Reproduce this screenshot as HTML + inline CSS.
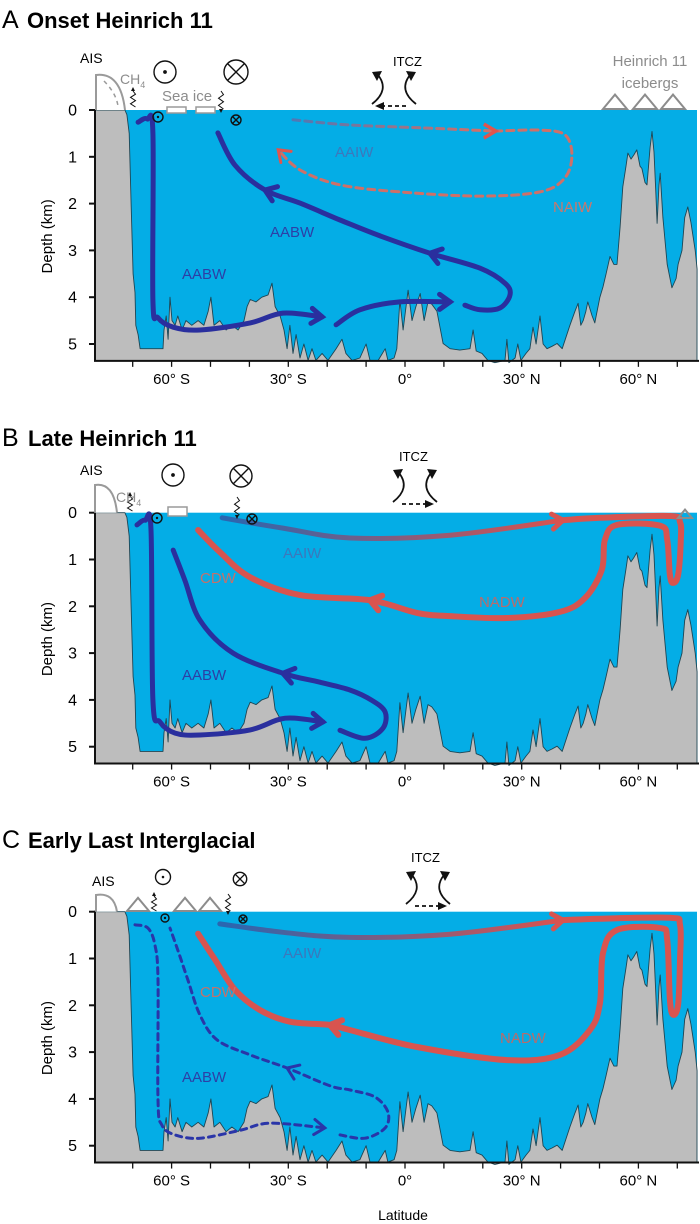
<!DOCTYPE html>
<html><head><meta charset="utf-8"><style>
html,body{margin:0;padding:0;background:#fff;}
svg{display:block;font-family:"Liberation Sans",sans-serif;}
</style></head><body>
<svg id="fig" width="700" height="1224" viewBox="0 0 700 1224">
<defs>
<linearGradient id="gA" gradientUnits="userSpaceOnUse" x1="293" y1="0" x2="480" y2="0"><stop offset="0" stop-color="#4f78b4"/><stop offset="1" stop-color="#d0706a"/></linearGradient>
<linearGradient id="gB" gradientUnits="userSpaceOnUse" x1="225" y1="0" x2="560" y2="0"><stop offset="0" stop-color="#2a66b0"/><stop offset="1" stop-color="#d9534f"/></linearGradient>
</defs>
<g id="layer-panels"></g>
<g id="layer-annot">
<text x="2" y="28" font-size="25">A</text>
<text x="27" y="28" font-size="22" font-weight="bold">Onset Heinrich 11</text>
<text x="2" y="446" font-size="25">B</text>
<text x="28" y="446" font-size="22" font-weight="bold">Late Heinrich 11</text>
<text x="2" y="848" font-size="25">C</text>
<text x="28" y="848" font-size="22" font-weight="bold">Early Last Interglacial</text>

<text x="80" y="63" font-size="14">AIS</text>
<text x="120" y="84" font-size="14" fill="#8c8c8c">CH<tspan font-size="9" dy="4">4</tspan></text>
<text x="162" y="101" font-size="15" fill="#8c8c8c">Sea ice</text>
<text x="393" y="66" font-size="13">ITCZ</text>
<text x="650" y="66" font-size="15" fill="#8c8c8c" text-anchor="middle">Heinrich 11</text>
<text x="650" y="88" font-size="15" fill="#8c8c8c" text-anchor="middle">icebergs</text>

<text x="80" y="475" font-size="14">AIS</text>
<text x="116" y="502" font-size="14" fill="#8c8c8c">CH<tspan font-size="9" dy="4">4</tspan></text>
<text x="399" y="461" font-size="13">ITCZ</text>

<text x="92" y="886" font-size="14">AIS</text>
<text x="411" y="862" font-size="13">ITCZ</text>

<text x="270" y="237" font-size="15" fill="#2d3fa6">AABW</text>
<text x="182" y="279" font-size="15" fill="#2d3fa6">AABW</text>
<text x="335" y="157" font-size="15" fill="#3c78bc">AAIW</text>
<text x="553" y="212" font-size="15" fill="#c8786e">NAIW</text>

<text x="283" y="558" font-size="15" fill="#3c78bc">AAIW</text>
<text x="200" y="583" font-size="15" fill="#c4716b">CDW</text>
<text x="479" y="607" font-size="15" fill="#b86c6c">NADW</text>
<text x="182" y="680" font-size="15" fill="#2d3fa6">AABW</text>

<text x="283" y="958" font-size="15" fill="#3c78bc">AAIW</text>
<text x="200" y="997" font-size="15" fill="#c4716b">CDW</text>
<text x="500" y="1043" font-size="15" fill="#b86c6c">NADW</text>
<text x="182" y="1082" font-size="15" fill="#2d3fa6">AABW</text>

<text x="403" y="1220" font-size="14" text-anchor="middle">Latitude</text>
</g>
</svg>
<script>
// ---------- data ----------
const bathyLat=[-79.7,-72,-71.5,-70.9,-70.4,-69.9,-69.4,-69.2,-68.6,-68.1,-62.2,-61.95,-61.4,-60.9,-60.4,-59.9,-59.1,-58.4,-57.3,-56.3,-54.8,-53.2,-51.7,-50.6,-49.9,-49.1,-47.6,-46.0,-44.5,-42.9,-41.4,-40.6,-39.8,-38.3,-36.8,-35.2,-34.2,-33.4,-32.1,-31.1,-30.3,-29.6,-28.8,-28.0,-27.0,-26.0,-24.9,-23.9,-22.9,-21.3,-19.8,-17.7,-16.2,-15.2,-13.6,-11.6,-10.0,-9.0,-6.9,-5.1,-4.4,-2.8,-2.1,-1.3,-0.5,0.8,1.8,2.8,3.9,4.9,5.9,6.9,8.2,9.8,11.6,14.1,16.7,17.5,18.3,19.8,21.3,23.1,25.7,26.2,26.7,28.3,29.0,29.8,31.1,32.1,32.9,33.7,34.7,35.5,36.5,37.8,39.1,40.4,42.4,43.7,44.5,45.2,45.8,46.5,47.0,48.1,48.8,50.1,50.9,51.7,52.7,53.7,54.5,55.3,56.0,56.8,57.3,58.1,58.9,59.6,60.4,60.9,61.7,62.2,63.0,63.5,64.0,64.5,64.8,65.3,65.6,66.3,67.4,68.6,69.7,70.2,71.2,71.9,72.7,73.5,74.6,75.1];
const bathyDepth=[0,0,0.1,0.5,2,3.5,3.9,4.6,4.8,5.1,5.1,4.7,4.4,4.9,4.0,4.5,4.6,4.4,4.7,4.5,4.6,4.5,4.6,4.3,4.0,4.6,4.5,4.7,4.6,4.7,4.5,4.2,4.05,4.1,4.0,3.95,3.7,4.2,4.4,4.7,5.1,4.6,5.2,4.8,5.3,5.0,5.35,5.1,5.35,5.2,5.35,5.1,4.9,5.2,5.35,5.3,5.0,5.35,5.35,5.1,5.35,5.3,5.1,4.06,4.7,3.85,4.5,4.2,3.92,4.5,4.1,4.15,4.3,4.99,5.1,5.13,5.1,4.7,5.15,5.2,5.35,5.4,5.35,4.9,5.4,5.3,5.0,5.35,5.2,5.1,4.64,5.0,4.4,5.0,5.1,5.05,4.99,5.1,4.6,4.3,4.13,4.6,4.5,4.3,4.1,4.4,4.55,4.0,3.78,3.5,3.13,3.3,3.3,2.5,1.64,1.2,0.92,1.05,0.95,0.85,1.2,1.25,1.55,1.6,0.8,0.46,0.9,1.8,2.42,1.6,1.35,2.3,3.3,3.8,3.6,3.3,3.0,2.3,2.07,2.4,3.0,3.4];
const depthTicks=[0,1,2,3,4,5];
const latTicks=[-70,-60,-50,-40,-30,-20,-10,0,10,20,30,40,50,60,70];
const latLabelValues=[-60,-30,0,30,60];
const latLabelText=["60° S","30° S","0°","30° N","60° N"];
const panelTops=[110,512.7,911.7];

// Panel A currents
const aabwA1Lat=[-68.6,-66.3,-64.8,-64.8,-63.5,-59.6,-52.7,-39.8,-31.4,-21.3];
const aabwA1Dep=[0.26,0.19,0.49,4.06,4.44,4.64,4.70,4.55,4.34,4.42];
const aabwA2Lat=[-17.7,-11.6,-1.3,11.6];
const aabwA2Dep=[4.59,4.27,4.10,4.10];
const aabwA3Lat=[15.4,19.3,24.4,27.0,25.7,19.3,6.4,-6.4,-16.7,-27.0,-36.0,-43.7,-48.1];
const aabwA3Dep=[4.17,4.27,4.23,3.95,3.70,3.38,3.06,2.69,2.35,1.99,1.71,1.18,0.49];
const naiwTopLat=[-28.8,-14.1,3.9,23.1];
const naiwTopDep=[0.21,0.32,0.38,0.45];
const naiwLat=[23.1,34.7,41.1,42.9,41.1,34.7,19.3,-1.3,-16.7,-27,-32.6];
const naiwDep=[0.45,0.43,0.53,0.96,1.45,1.75,1.84,1.75,1.60,1.28,0.85];
// Panel B currents
const aabwB1Lat=[-68.9,-66.8,-65.3,-64.8,-63,-59.1,-52.7,-39.8,-30.8,-21.1];
const aabwB1Dep=[0.26,0.16,0.37,4.00,4.47,4.71,4.75,4.64,4.39,4.47];
const aabwB2Lat=[-16.7,-10.3,-5.7,-5.1,-8.5,-14.1,-22,-31.4,-44.2,-52.7,-56.6,-59.6];
const aabwB2Dep=[4.65,4.82,4.61,4.26,4.01,3.79,3.62,3.43,3.0,2.3,1.44,0.80];
const aaiwBLat=[-47,-31.4,-14.1,11.6,40.6];
const aaiwBDep=[0.11,0.33,0.54,0.48,0.16];
const nadwBLat=[40.6,50.1,68.1,70.7,70.9,70.2,68.9,68.1,67.4,65.6,54.5,51.4,50.6,46.3,39.8,26.2,11.6,3.1,-9,-27,-39.8,-47.6,-53.2];
const nadwBDep=[0.16,0.11,0.07,0.20,0.58,1.33,1.50,1.33,0.58,0.28,0.26,0.58,1.22,1.82,2.12,2.25,2.21,2.14,1.87,1.76,1.38,0.84,0.37];
// Panel C currents
const aabwC1Lat=[-69.4,-66.1,-64.3,-63.5,-63.5,-62.5,-59.1,-52.7,-42.4,-34.7,-20.6];
const aabwC1Dep=[0.28,0.35,0.71,1.46,4.02,4.56,4.77,4.84,4.67,4.52,4.62];
const aabwC2Lat=[-16.7,-10.3,-5.1,-4.4,-7.7,-14.1,-19.3,-30.3,-39.8,-48.3,-52.7,-55.8,-58.4,-60.4];
const aabwC2Dep=[4.77,4.84,4.62,4.28,3.96,3.81,3.72,3.34,3.06,2.74,2.21,1.46,0.82,0.35];
const aaiwCLat=[-47.6,-31.4,-14.1,11.6,40.6];
const aaiwCDep=[0.26,0.44,0.55,0.48,0.18];
const nadwCLat=[40.6,50.1,68.1,70.7,70.7,70.2,68.9,68.1,67.4,65.6,54.5,50.9,50.1,47.5,39.8,26.2,3.1,-14.1,-19.3,-29.6,-37.3,-43.7,-48.8,-53.2];
const nadwCDep=[0.18,0.15,0.13,0.28,1.03,1.99,2.20,1.88,0.60,0.35,0.39,0.88,1.96,2.53,3.06,3.17,2.89,2.53,2.42,2.35,2.10,1.67,1.03,0.47];

// ---------- scales ----------
const NS="http://www.w3.org/2000/svg";
function X(lat){return 405+3.89*lat;}
function Y(top,d){return top+46.8*d;}
const AXIS_DEPTH=5.36;
const RIGHT=697, LEFT=95;
const BLUE="#2a2f9e", RED="#d8544f";
function mk(tag,attrs,parent){const e=document.createElementNS(NS,tag);for(const k in attrs)e.setAttribute(k,attrs[k]);(parent||document.getElementById('layer-panels')).appendChild(e);return e;}
function smooth(pts){
  let d="M"+pts[0][0].toFixed(1)+","+pts[0][1].toFixed(1);
  for(let i=0;i<pts.length-1;i++){
    const p0=pts[Math.max(0,i-1)],p1=pts[i],p2=pts[i+1],p3=pts[Math.min(pts.length-1,i+2)];
    const c1=[p1[0]+(p2[0]-p0[0])/6,p1[1]+(p2[1]-p0[1])/6];
    const c2=[p2[0]-(p3[0]-p1[0])/6,p2[1]-(p3[1]-p1[1])/6];
    d+="C"+c1[0].toFixed(1)+","+c1[1].toFixed(1)+" "+c2[0].toFixed(1)+","+c2[1].toFixed(1)+" "+p2[0].toFixed(1)+","+p2[1].toFixed(1);
  }
  return d;
}
function current(g,top,lats,deps,stroke,width,dash,arrows,name,arrowColor){
  const pts=lats.map((l,i)=>[X(l),Y(top,deps[i])]);
  const p=mk('path',{d:smooth(pts),fill:'none',stroke:stroke,'stroke-width':width,'stroke-linecap':'round','stroke-linejoin':'round'},g);
  if(dash)p.setAttribute('stroke-dasharray',dash);
  
  
  arrows.forEach(i=>{
    const a=pts[i],b=pts[Math.max(0,i-1)];
    let dx=a[0]-b[0],dy=a[1]-b[1];const L=Math.hypot(dx,dy)||1;dx/=L;dy/=L;
    const len=13,ang=0.62;
    const l1=[a[0]-len*(dx*Math.cos(ang)-dy*Math.sin(ang)),a[1]-len*(dy*Math.cos(ang)+dx*Math.sin(ang))];
    const l2=[a[0]-len*(dx*Math.cos(-ang)-dy*Math.sin(-ang)),a[1]-len*(dy*Math.cos(-ang)+dx*Math.sin(-ang))];
    const h=mk('path',{d:`M${l1[0]},${l1[1]}L${a[0]},${a[1]}L${l2[0]},${l2[1]}`,fill:'none',stroke:arrowColor||stroke,'stroke-width':width,'stroke-linecap':'round','stroke-linejoin':'miter'},g);
    
    
  });
}
function circleDot(g,cx,cy,r,name){
  const c=mk('g',{},g);
  
  
  mk('circle',{cx:cx,cy:cy,r:r,fill:'none',stroke:'#111','stroke-width':1.4},c);
  mk('circle',{cx:cx,cy:cy,r:Math.max(1.2,r*0.17),fill:'#111'},c);
}
function circleX(g,cx,cy,r,name){
  const c=mk('g',{},g);
  
  
  mk('circle',{cx:cx,cy:cy,r:r,fill:'none',stroke:'#111','stroke-width':1.4},c);
  const k=r*0.7;
  mk('path',{d:`M${cx-k},${cy-k}L${cx+k},${cy+k}M${cx-k},${cy+k}L${cx+k},${cy-k}`,stroke:'#111','stroke-width':1.4},c);
}
function wavy(g,x,y1,y2,up,name){
  let d=`M${x},${y1}`;const n=5,h=(y2-y1)/n;
  for(let i=1;i<=n;i++)d+=`L${x+(i%2?2.5:-2.5)},${y1+h*i}`;
  const w=mk('path',{d:d,fill:'none',stroke:'#111','stroke-width':1},g);
  
  
  const tip=up?y1-4:y2+4, base=up?y1:y2;
  mk('path',{d:`M${x-2},${base}L${x},${tip}L${x+2},${base}Z`,fill:'#111'},g);
}
function triangle(g,cx,base,w,name){
  const t=mk('path',{d:`M${cx-w/2},${base}L${cx},${base-w*0.6}L${cx+w/2},${base}Z`,fill:'none',stroke:'#8c8c8c','stroke-width':2},g);
  
  
}
function dome(g,x0,x1,top,base,dashed,name){
  const d=mk('path',{d:`M${x0},${base}L${x0},${top+2}Q${x0+(x1-x0)*0.85},${top-1} ${x1},${base}`,fill:'#fff',stroke:'#9a9a9a','stroke-width':2},g);
  
  
  if(dashed)mk('path',{d:`M${x0+8},${top+8}Q${x0+20},${top+20} ${x0+22},${base-4}`,fill:'none',stroke:'#9a9a9a','stroke-width':1.5,'stroke-dasharray':'4,4'},g);
}
function seaIce(g,x,y,w,h,name){
  const r=mk('rect',{x:x,y:y,width:w,height:h,fill:'#fff',stroke:'#9a9a9a','stroke-width':1.5},g);
  
  
}
function itcz(g,cx,top,dirRight,name){
  const c=mk('g',{},g);
  
  
  mk('path',{d:`M${cx-22},${top+34}Q${cx-4},${top+20} ${cx-16},${top+5}`,fill:'none',stroke:'#111','stroke-width':1.8},c);
  mk('path',{d:`M${cx-12},${top+1}L${cx-22},${top+2}L${cx-17},${top+11}Z`,fill:'#111'},c);
  mk('path',{d:`M${cx+22},${top+34}Q${cx+4},${top+20} ${cx+16},${top+5}`,fill:'none',stroke:'#111','stroke-width':1.8},c);
  mk('path',{d:`M${cx+12},${top+1}L${cx+22},${top+2}L${cx+17},${top+11}Z`,fill:'#111'},c);
  mk('path',{d:`M${cx-13},${top+36}L${cx+13},${top+36}`,stroke:'#111','stroke-width':1.8,'stroke-dasharray':'4,3'},c);
  if(dirRight)mk('path',{d:`M${cx+10},${top+32}L${cx+19},${top+36}L${cx+10},${top+40}Z`,fill:'#111'},c);
  else mk('path',{d:`M${cx-10},${top+32}L${cx-19},${top+36}L${cx-10},${top+40}Z`,fill:'#111'},c);
}

// ---------- draw panels ----------
const panelNames=['a','b','c'];
panelTops.forEach((top,pi)=>{
  const pn=panelNames[pi];
  const g=mk('g',{});
  
  
  const bot=Y(top,AXIS_DEPTH);
  const ocean=mk('rect',{x:LEFT,y:top,width:RIGHT-LEFT,height:bot-top,fill:'#04ade6'},g);
  
  
  let d="M"+X(bathyLat[0])+","+Y(top,bathyDepth[0]);
  bathyLat.forEach((l,i)=>{d+="L"+X(l).toFixed(1)+","+Y(top,bathyDepth[i]).toFixed(1);});
  d+=`L${RIGHT},${bot}L${LEFT},${bot}Z`;
  const sea=mk('path',{d:d,fill:'#bdbdbd',stroke:'#1e4654','stroke-width':0.9,'stroke-linejoin':'round'},g);
  
  
  const ax=mk('path',{d:`M${LEFT},${top-1}L${LEFT},${bot}L${RIGHT+2},${bot}`,fill:'none',stroke:'#111','stroke-width':2},g);
  
  
  depthTicks.forEach(t=>{
    const y=Y(top,t);
    const tk=mk('line',{x1:LEFT-6,x2:LEFT,y1:y,y2:y,stroke:'#111','stroke-width':2},g);
    
    
    const tl=mk('text',{x:LEFT-18,y:y+5.5,'font-size':16,'text-anchor':'end'},g);
    tl.textContent=String(t);
    
    
  });
  latTicks.forEach(t=>{
    const x=X(t);
    const tk=mk('line',{x1:x,x2:x,y1:bot,y2:bot+6,stroke:'#111','stroke-width':1.3},g);
    
    
  });
  latLabelValues.forEach((v,i)=>{
    const tl=mk('text',{x:X(v),y:bot+23,'font-size':15,'text-anchor':'middle'},g);
    tl.textContent=latLabelText[i];
    
    
  });
  const yt=mk('text',{x:0,y:0,'font-size':15,'text-anchor':'middle',transform:`translate(52,${Y(top,2.7)}) rotate(-90)`},g);
  yt.textContent="Depth (km)";
  
  
});

// ---------- panel A overlays ----------
(function(){
  const top=panelTops[0];const g=mk('g',{});
  
  
  current(g,top,naiwTopLat,naiwTopDep,'url(#gA)',3,'7,5',[],'naiw-upper-branch');
  current(g,top,naiwLat,naiwDep,'#cf7068',3,'7,5',[naiwLat.length-1],'naiw-lower-branch','#e0554e');
  mk('path',{d:`M${X(23.1)-11},${Y(top,0.45)-7}L${X(23.1)+1},${Y(top,0.45)}L${X(23.1)-11},${Y(top,0.45)+7}`,fill:'none',stroke:'#e0554e','stroke-width':3.5},g);
  current(g,top,aabwA1Lat,aabwA1Dep,BLUE,5,null,[aabwA1Lat.length-1],'aabw-bottom-flow-a');
  current(g,top,aabwA2Lat,aabwA2Dep,BLUE,5,null,[aabwA2Lat.length-1],'aabw-middle-flow-a');
  current(g,top,aabwA3Lat,aabwA3Dep,BLUE,5,null,[6,10],'aabw-return-flow-a');
  dome(g,96,125,73,110,true,'ais-ice-sheet-a');
  wavy(g,133,91,107,true,'ch4-release-a');
  wavy(g,221,91,109,false,'heat-flux-a');
  circleDot(g,165,72,11,'wind-out-a');
  circleX(g,236,72,12,'wind-in-a');
  circleDot(g,158,117,5,'small-wind-out-a');
  circleX(g,236,120,5,'small-wind-in-a');
  seaIce(g,167,107,19,6,'sea-ice-1');
  seaIce(g,196,107,19,6,'sea-ice-2');
  itcz(g,394,70,false,'itcz-symbol-a');
  triangle(g,615,109,24,'iceberg-1');
  triangle(g,645,109,24,'iceberg-2');
  triangle(g,673,109,24,'iceberg-3');
})();

// ---------- panel B overlays ----------
(function(){
  const top=panelTops[1];const g=mk('g',{});
  
  
  current(g,top,nadwBLat,nadwBDep,RED,6,null,[18],'nadw-cdw-flow-b');
  current(g,top,aaiwBLat,aaiwBDep,'url(#gB)',5,null,[aaiwBLat.length-1],'aaiw-flow-b',RED);
  current(g,top,aabwB1Lat,aabwB1Dep,BLUE,5,null,[aabwB1Lat.length-1],'aabw-bottom-flow-b');
  current(g,top,aabwB2Lat,aabwB2Dep,BLUE,5,null,[7],'aabw-return-flow-b');
  dome(g,95,117,483,512.7,false,'ais-ice-sheet-b');
  wavy(g,130,496,511,true,'ch4-release-b');
  wavy(g,237,497,515,false,'heat-flux-b');
  circleDot(g,173,475,11,'wind-out-b');
  circleX(g,241,476,11,'wind-in-b');
  circleDot(g,157,518,5,'small-wind-out-b');
  circleX(g,252,519,5,'small-wind-in-b');
  seaIce(g,168,507,19,9,'sea-ice-b');
  itcz(g,415,468,true,'itcz-symbol-b');
  triangle(g,685,518,14,'iceberg-b');
})();

// ---------- panel C overlays ----------
(function(){
  const top=panelTops[2];const g=mk('g',{});
  
  
  current(g,top,nadwCLat,nadwCDep,RED,6,null,[18],'nadw-cdw-flow-c');
  current(g,top,aaiwCLat,aaiwCDep,'url(#gB)',5,null,[aaiwCLat.length-1],'aaiw-flow-c',RED);
  current(g,top,aabwC1Lat,aabwC1Dep,'#2a35a8',3,'6,5',[aabwC1Lat.length-1],'aabw-bottom-flow-c');
  current(g,top,aabwC2Lat,aabwC2Dep,'#2a35a8',3,'6,5',[7],'aabw-return-flow-c');
  dome(g,96,117,893,911.7,false,'ais-ice-sheet-c');
  triangle(g,138,911,22,'iceberg-c1');
  triangle(g,185,911,22,'iceberg-c2');
  triangle(g,210,911,22,'iceberg-c3');
  wavy(g,154,896,911,true,'ch4-release-c');
  wavy(g,228,894,911,false,'heat-flux-c');
  circleDot(g,163,877,7.5,'wind-out-c');
  circleX(g,240,879,6.7,'wind-in-c');
  circleDot(g,165,918,4,'small-wind-out-c');
  circleX(g,243,919,4,'small-wind-in-c');
  itcz(g,428,870,true,'itcz-symbol-c');
})();
document.getElementById('fig').appendChild(document.getElementById('layer-annot'));
</script>
</body></html>
